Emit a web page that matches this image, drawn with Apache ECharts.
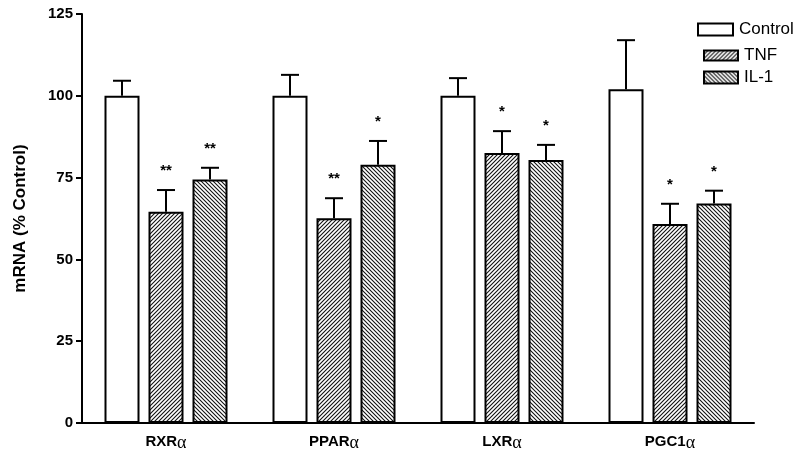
<!DOCTYPE html>
<html>
<head>
<meta charset="utf-8">
<script src="https://cdn.jsdelivr.net/npm/echarts@6/dist/echarts.min.js"></script>
<style>
  html, body { margin: 0; padding: 0; background: #fff; }
  #chart { width: 800px; height: 469px; }
</style>
</head>
<body>
<div id="chart"></div>
<script>
// data
const categories = ['RXRα', 'PPARα', 'LXRα', 'PGC1α'];
const seriesNames = ['Control', 'TNF', 'IL-1'];

const controlMean = [100, 100, 100, 102];
const controlSem = [4.6, 6.4, 5.4, 15];
const tnfMean = [64.6, 62.6, 82.5, 60.8];
const tnfSem = [6.6, 6.1, 6.7, 6.2];
const il1Mean = [74.4, 78.9, 80.4, 67.1];
const il1Sem = [3.6, 7.3, 4.6, 3.9];

const controlSig = ['', '', '', ''];
const tnfSig = ['**', '**', '*', '*'];
const il1Sig = ['**', '*', '*', '*'];

const yTicks = [0, 25, 50, 75, 100, 125];

// layout constants
const BAR_W = 35;
const BAR_STEP = 44; // bar width + gap inside a group
const FONT = 'Liberation Sans, Arial, sans-serif';

// hatch pattern, dir 1 = "////", dir -1 = "\\\\"
function hatch(dir) {
    const s = 4;
    const c = document.createElement('canvas');
    c.width = s; c.height = s;
    const ctx = c.getContext('2d');
    ctx.fillStyle = '#fff';
    ctx.fillRect(0, 0, s, s);
    ctx.strokeStyle = '#111';
    ctx.lineWidth = 1.1;
    ctx.beginPath();
    for (let k = -1; k <= 1; k++) {
        if (dir > 0) {
            ctx.moveTo(k * s - 1, s + 1);
            ctx.lineTo(k * s + s + 1, -1);
        } else {
            ctx.moveTo(k * s - 1, -1);
            ctx.lineTo(k * s + s + 1, s + 1);
        }
    }
    ctx.stroke();
    return { image: c, repeat: 'repeat' };
}

const fills = ['#fff', hatch(1), hatch(-1)];
const means = [controlMean, tnfMean, il1Mean];
const sems = [controlSem, tnfSem, il1Sem];
const sigs = [controlSig, tnfSig, il1Sig];

const chart = echarts.init(document.getElementById('chart'));

const barSeries = seriesNames.map((name, i) => ({
    name: name,
    type: 'bar',
    barWidth: BAR_W,
    barGap: ((BAR_STEP - BAR_W) / BAR_W * 100) + '%',
    data: means[i],
    itemStyle: { color: fills[i], borderColor: '#000', borderWidth: 2 },
    emphasis: { disabled: true },
    z: 2
}));

// error bars + significance marks
const errSeries = seriesNames.map((name, i) => ({
    type: 'custom',
    name: name + ' err',
    data: means[i].map((m, j) => [j, m, sems[i][j]]),
    z: 3,
    silent: true,
    renderItem: (params, api) => {
        const off = (i - 1) * BAR_STEP;
        const base = api.coord([api.value(0), api.value(1)]);
        const top = api.coord([api.value(0), api.value(1) + api.value(2)]);
        const x = base[0] + off;
        const sig = sigs[i][params.dataIndex];
        const children = [
            { type: 'line', shape: { x1: x, y1: base[1], x2: x, y2: top[1] },
              style: { stroke: '#000', lineWidth: 2 } },
            { type: 'line', shape: { x1: x - 9, y1: top[1], x2: x + 9, y2: top[1] },
              style: { stroke: '#000', lineWidth: 2 } }
        ];
        if (sig) {
            children.push({ type: 'text', x: x, y: top[1] - 19,
                style: { text: sig, fill: '#000', font: 'bold 15px ' + FONT,
                         align: 'center', verticalAlign: 'middle' } });
        }
        return { type: 'group', children: children };
    }
}));

const legendPos = [
    { left: 697, top: 21, w: 35, h: 12 },
    { left: 703, top: 47, w: 34, h: 10 },
    { left: 703, top: 69, w: 34, h: 12 }
];

const option = {
    animation: false,
    backgroundColor: '#fff',
    grid: { left: 82, right: 46, top: 14, bottom: 46 },
    legend: seriesNames.map((name, i) => ({
        data: [name],
        left: legendPos[i].left,
        top: legendPos[i].top,
        icon: 'rect',
        itemWidth: legendPos[i].w,
        itemHeight: legendPos[i].h,
        itemGap: 5,
        selectedMode: false,
        padding: 0,
        textStyle: { fontFamily: FONT, fontSize: 17, color: '#000', padding: [0, 0, 0, 1] }
    })),
    xAxis: {
        type: 'category',
        data: categories,
        axisLine: { lineStyle: { color: '#000', width: 2 } },
        axisTick: { show: false },
        axisLabel: {
            margin: 8,
            formatter: v => '{b|' + v.slice(0, -1) + '}{a|' + v.slice(-1) + '}',
            rich: {
                b: { fontFamily: FONT, fontWeight: 'bold', fontSize: 15, color: '#000' },
                a: { fontFamily: 'Liberation Serif, serif', fontSize: 18, color: '#000', padding: [3, 0, 0, 0] }
            }
        }
    },
    yAxis: {
        type: 'value',
        min: yTicks[0],
        max: yTicks[yTicks.length - 1],
        interval: yTicks[1] - yTicks[0],
        name: 'mRNA (% Control)',
        nameLocation: 'middle',
        nameGap: 53,
        nameTextStyle: { fontFamily: FONT, fontWeight: 'bold', fontSize: 17, color: '#000' },
        axisLine: { show: true, lineStyle: { color: '#000', width: 2 } },
        axisTick: { show: true, length: 6, lineStyle: { color: '#000', width: 2 } },
        axisLabel: { margin: 9, fontFamily: FONT, fontWeight: 'bold', fontSize: 15, color: '#000' },
        splitLine: { show: false }
    },
    series: barSeries.concat(errSeries)
};

chart.setOption(option);
</script>
</body>
</html>
